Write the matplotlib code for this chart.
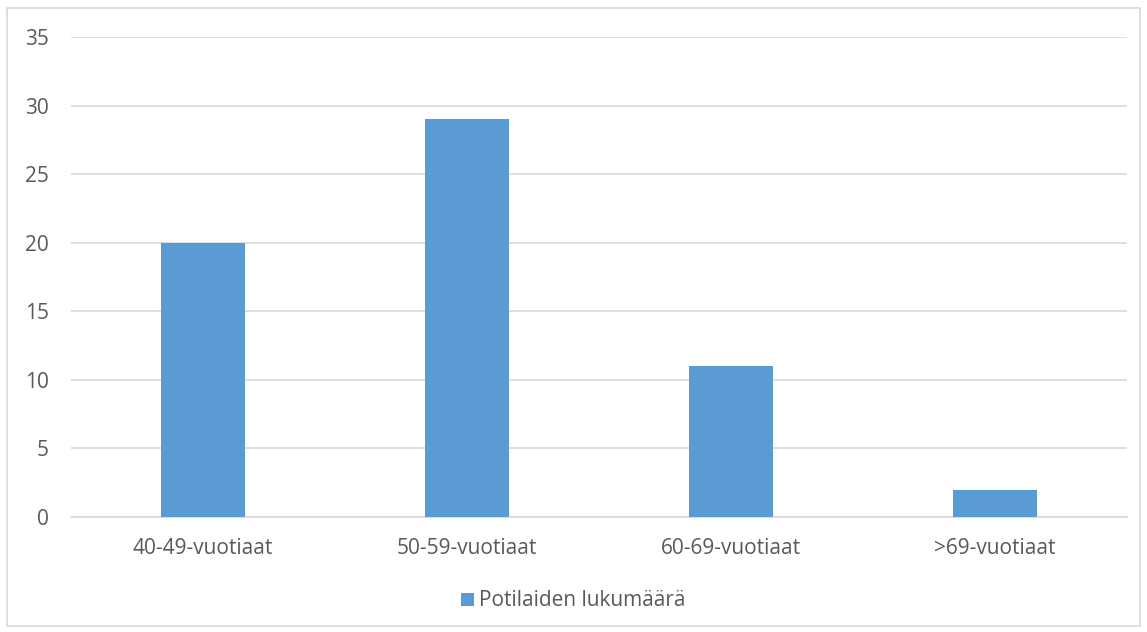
import matplotlib.pyplot as plt
from matplotlib.patches import Rectangle
import numpy as np

categories = ["40-49-vuotiaat", "50-59-vuotiaat", "60-69-vuotiaat", ">69-vuotiaat"]
values = [20, 29, 11, 2]
series_name = "Potilaiden lukumäärä"
yticks = [0, 5, 10, 15, 20, 25, 30, 35]

plt.rcParams['font.family'] = ['Open Sans', 'DejaVu Sans']
txt = '#595959'
fs = 15

fig = plt.figure(figsize=(11.47, 6.32), dpi=100)
ax = fig.add_axes([71/1147, 1 - 517/632, (1127 - 71)/1147, (517 - 37)/632])

x = np.arange(len(categories))
ax.bar(x, values, width=0.315, color='#5b9bd5', label=series_name, zorder=3)

ax.set_xlim(-0.5, len(categories) - 0.5)
ax.set_ylim(0, 35)
ax.set_yticks(yticks)
ax.set_xticks(x)
ax.set_xticklabels(categories)
ax.tick_params(axis='both', length=0, colors=txt, labelsize=fs)
ax.tick_params(axis='y', pad=16)
ax.tick_params(axis='x', pad=15)
ax.grid(axis='y', color='#d9d9d9', linewidth=1.2, zorder=0)
for s in ['top', 'right', 'left']:
    ax.spines[s].set_visible(False)
ax.spines['bottom'].set_color('#d9d9d9')
ax.spines['bottom'].set_linewidth(1.2)

leg = fig.legend(loc='center', bbox_to_anchor=(0.5, 1 - 601/632), frameon=False,
                 fontsize=fs, handlelength=0.6, handleheight=0.6, handletextpad=0.25)
for t in leg.get_texts():
    t.set_color(txt)

fig.patches.append(Rectangle((7/1147, 1 - 626/632), (1140 - 7)/1147, (626 - 8)/632,
                             transform=fig.transFigure, fill=False,
                             edgecolor='#d9d9d9', linewidth=1.2))

fig.savefig('out.png', dpi=100)
